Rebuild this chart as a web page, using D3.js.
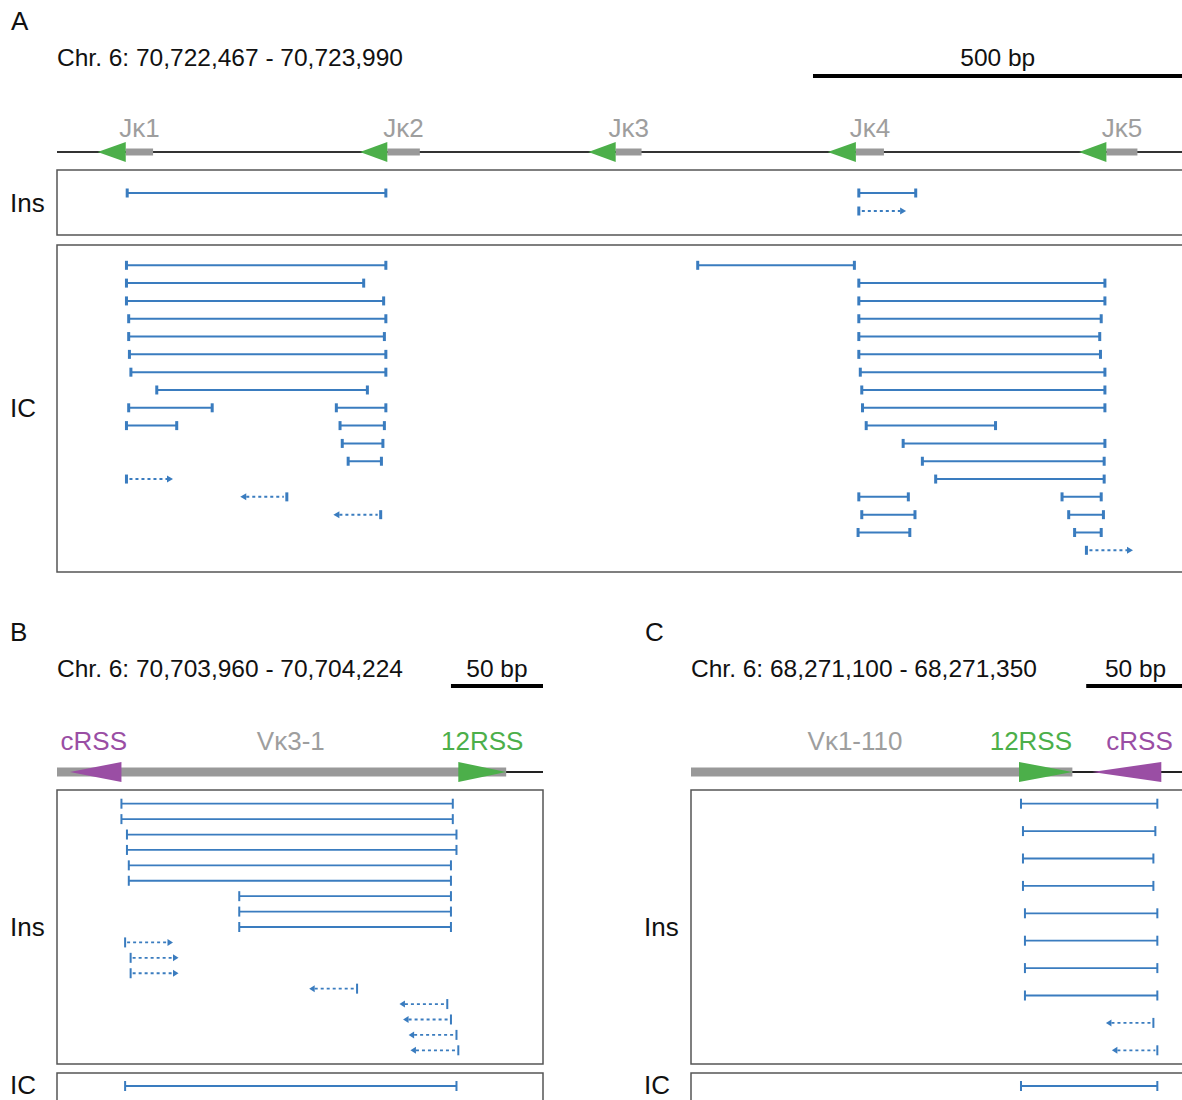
<!DOCTYPE html>
<html>
<head>
<meta charset="utf-8">
<script src="https://cdn.jsdelivr.net/npm/d3@7"></script>
<style>
  body { margin: 0; background: #fff; }
  svg { display: block; }
  text { font-family: "Liberation Sans", Arial, Helvetica, sans-serif; }
</style>
</head>
<body>
<svg id="fig" width="1182" height="1100"></svg>
<script>
// ---------------------------------------------------------------------------
// Data
// ---------------------------------------------------------------------------
const panelNames = ["A", "B", "C"];
const windowLabels = [
  "Chr. 6: 70,722,467 - 70,723,990",
  "Chr. 6: 70,703,960 - 70,704,224",
  "Chr. 6: 68,271,100 - 68,271,350"
];
const windowLengths = [1523, 264, 250];      // bp shown in each panel
const scaleBarLengths = [500, 50, 50];       // bp

// Jκ cluster (panel A), bp from window start. RSS precedes each coding segment.
const jGenes    = ["Jκ1", "Jκ2", "Jκ3", "Jκ4", "Jκ5"];
const jRssStart = [55, 410, 719, 1043, 1383];
const jSegStart = [93, 447, 756, 1081, 1420];
const jSegEnd   = [130, 491, 791, 1119, 1462];

// V segments (panels B, C): [name, start, end, kind, labelAt]
const vFeaturesB = [
  ["Vκ3-1", 0, 244, "gene", 127],
  ["cRSS", 7, 35, "cRSS", 20],
  ["12RSS", 218, 244, "12RSS", 231]
];
const vFeaturesC = [
  ["Vκ1-110", 0, 193, "gene", 83],
  ["12RSS", 166, 193, "12RSS", 172],
  ["cRSS", 203, 238, "cRSS", 227]
];

// Junction reads: [row, start bp, end bp, kind]
// kind: "s" both breakpoints mapped, "f" open towards the right, "r" open towards the left
const insA = [
  [0, 95, 445, "s"], [0, 1085, 1162, "s"],
  [1, 1085, 1149, "f"]
];
const icA = [
  [0, 94, 445, "s"],  [0, 867, 1079, "s"],
  [1, 94, 415, "s"],  [1, 1085, 1418, "s"],
  [2, 94, 442, "s"],  [2, 1085, 1418, "s"],
  [3, 97, 445, "s"],  [3, 1085, 1413, "s"],
  [4, 97, 443, "s"],  [4, 1085, 1411, "s"],
  [5, 98, 445, "s"],  [5, 1085, 1412, "s"],
  [6, 100, 445, "s"], [6, 1087, 1418, "s"],
  [7, 135, 420, "s"], [7, 1089, 1418, "s"],
  [8, 97, 210, "s"],  [8, 378, 445, "s"], [8, 1090, 1418, "s"],
  [9, 94, 162, "s"],  [9, 383, 443, "s"], [9, 1095, 1270, "s"],
  [10, 386, 441, "s"], [10, 1145, 1418, "s"],
  [11, 394, 439, "s"], [11, 1171, 1417, "s"],
  [12, 94, 157, "f"],  [12, 1189, 1417, "s"],
  [13, 248, 311, "r"], [13, 1085, 1152, "s"], [13, 1360, 1413, "s"],
  [14, 374, 438, "r"], [14, 1089, 1161, "s"], [14, 1369, 1416, "s"],
  [15, 1084, 1154, "s"], [15, 1377, 1413, "s"],
  [16, 1393, 1456, "f"]
];
const insB = [
  [0, 35, 215, "s"], [1, 35, 215, "s"], [2, 38, 217, "s"], [3, 38, 217, "s"],
  [4, 39, 214, "s"], [5, 39, 214, "s"], [6, 99, 214, "s"], [7, 99, 214, "s"],
  [8, 99, 214, "s"],
  [9, 37, 63, "f"], [10, 40, 66, "f"], [11, 40, 66, "f"],
  [12, 137, 163, "r"], [13, 186, 212, "r"], [14, 188, 214, "r"],
  [15, 191, 217, "r"], [16, 192, 218, "r"]
];
const icB = [[0, 37, 217, "s"]];
const insC = [
  [0, 167, 236, "s"], [1, 168, 235, "s"], [2, 168, 234, "s"], [3, 168, 234, "s"],
  [4, 169, 236, "s"], [5, 169, 236, "s"], [6, 169, 236, "s"], [7, 169, 236, "s"],
  [8, 210, 234, "r"], [9, 213, 236, "r"]
];
const icC = [[0, 167, 236, "s"]];

// ---------------------------------------------------------------------------
// Styles
// ---------------------------------------------------------------------------
const READ = "#3a7cbf";
const GREEN = "#4caf4a";
const PURPLE = "#9a4ea4";
const GREY = "#999999";
const LABEL_GREY = "#9e9e9e";
const BOX = "#555555";
const HEAD_FS = 24.5;   // header lines
const LAB_FS = 26;      // feature and row-group labels

const svg = d3.select("#fig");

// Horizontal scales per panel (bp -> px)
const xA = d3.scaleLinear().domain([0, windowLengths[0]]).range([57, 1182.5]);
const xB = d3.scaleLinear().domain([0, windowLengths[1]]).range([57, 543]);
const xC = d3.scaleLinear().domain([0, windowLengths[2]]).range([691, 1185]);

function header(i, x, letterX, letterY, textY, barY) {
  svg.append("text").attr("x", letterX).attr("y", letterY)
    .attr("font-size", 26).attr("fill", "#111").text(panelNames[i]);
  svg.append("text").attr("x", x.range()[0]).attr("y", textY)
    .attr("font-size", HEAD_FS).attr("fill", "#111").text(windowLabels[i]);
  const end = windowLengths[i];
  const x0 = x(end - scaleBarLengths[i]), x1 = x(end);
  svg.append("line").attr("x1", x0).attr("x2", x1).attr("y1", barY).attr("y2", barY)
    .attr("stroke", "#000").attr("stroke-width", 4);
  svg.append("text").attr("x", (x0 + x1) / 2).attr("y", textY)
    .attr("text-anchor", "middle").attr("font-size", HEAD_FS).attr("fill", "#111")
    .text(scaleBarLengths[i] + " bp");
}

function triangle(g, tipX, baseX, cy, half, fill) {
  g.append("path")
    .attr("d", `M${tipX},${cy} L${baseX},${cy - half} L${baseX},${cy + half} Z`)
    .attr("fill", fill);
}

function box(x0, x1, y0, y1) {
  svg.append("rect").attr("x", x0).attr("y", y0)
    .attr("width", x1 - x0).attr("height", y1 - y0)
    .attr("fill", "none").attr("stroke", BOX).attr("stroke-width", 1.5);
}

function sideLabel(x, y, t) {
  svg.append("text").attr("x", x).attr("y", y)
    .attr("font-size", LAB_FS).attr("fill", "#111").text(t);
}

function drawReads(reads, x, y, o) {
  const g = svg.append("g");
  g.selectAll("g.read").data(reads).join("g").attr("class", "read")
    .each(function (d) {
      const s = d3.select(this);
      const [row, a, b, kind] = d;
      const yy = y(row), xa = x(a), xb = x(b);
      const cap = cx => s.append("rect")
        .attr("x", cx - o.capW / 2).attr("y", yy - o.capH / 2)
        .attr("width", o.capW).attr("height", o.capH).attr("fill", READ);
      const seg = (p, q, dashed) => s.append("line")
        .attr("x1", p).attr("x2", q).attr("y1", yy).attr("y2", yy)
        .attr("stroke", READ).attr("stroke-width", o.lw)
        .attr("stroke-dasharray", dashed ? "3,3" : null);
      if (kind === "s") {
        seg(xa, xb, false); cap(xa); cap(xb);
      } else if (kind === "f") {
        seg(xa + o.capW, xb - o.head, true); cap(xa);
        triangle(s, xb, xb - o.head, yy, o.headH, READ);
      } else {
        seg(xa + o.head, xb - o.capW, true); cap(xb);
        triangle(s, xa, xa + o.head, yy, o.headH, READ);
      }
    });
}

// ---------------------------------------------------------------------------
// Panel A: Jκ cluster
// ---------------------------------------------------------------------------
header(0, xA, 11, 30, 66, 76);
{
  const g = svg.append("g");
  const ty = 152;
  g.append("line").attr("x1", xA(0)).attr("x2", xA(windowLengths[0]))
    .attr("y1", ty).attr("y2", ty).attr("stroke", "#333").attr("stroke-width", 2);
  jGenes.forEach((name, i) => {
    g.append("rect").attr("x", xA(jSegStart[i])).attr("y", ty - 3.5)
      .attr("width", xA(jSegEnd[i]) - xA(jSegStart[i])).attr("height", 7).attr("fill", GREY);
    triangle(g, xA(jRssStart[i]), xA(jSegStart[i]), ty, 10, GREEN);
    g.append("text").attr("x", (xA(jSegStart[i]) + xA(jSegEnd[i])) / 2).attr("y", 137)
      .attr("text-anchor", "middle").attr("font-size", LAB_FS).attr("fill", LABEL_GREY).text(name);
  });
}
box(57, 1190, 170, 235);
box(57, 1190, 245, 572);
sideLabel(10, 212, "Ins");
sideLabel(10, 417, "IC");
const optA = { lw: 2, capW: 3, capH: 9, head: 6, headH: 3.5 };
drawReads(insA, xA, r => 193 + 18 * r, optA);
drawReads(icA, xA, d3.scaleLinear().domain([0, 16]).range([265.3, 550.3]), optA);

// ---------------------------------------------------------------------------
// Panels B and C: V segments
// ---------------------------------------------------------------------------
function vTrack(features, x, len) {
  const g = svg.append("g");
  const ty = 772;
  g.append("line").attr("x1", x(0)).attr("x2", x(len)).attr("y1", ty).attr("y2", ty)
    .attr("stroke", "#222").attr("stroke-width", 2);
  features.forEach(([name, a, b, kind, at]) => {
    if (kind === "gene") {
      g.append("rect").attr("x", x(a)).attr("y", ty - 4.5)
        .attr("width", x(b) - x(a)).attr("height", 9).attr("fill", GREY);
    }
  });
  features.forEach(([name, a, b, kind, at]) => {
    let color = LABEL_GREY;
    if (kind === "12RSS") { triangle(g, x(b), x(a), ty, 10, GREEN); color = GREEN; }
    if (kind === "cRSS") { triangle(g, x(a), x(b), ty, 10, PURPLE); color = PURPLE; }
    g.append("text").attr("x", x(at)).attr("y", 750).attr("text-anchor", "middle")
      .attr("font-size", LAB_FS).attr("fill", color).text(name);
  });
}

const optBC = { lw: 1.8, capW: 2, capH: 10, head: 5.5, headH: 3.5 };

header(1, xB, 10, 641, 677, 686);
vTrack(vFeaturesB, xB, windowLengths[1]);
box(57, 543, 790, 1064);
box(57, 543, 1073, 1115);
sideLabel(10, 936, "Ins");
sideLabel(10, 1094, "IC");
drawReads(insB, xB, d3.scalePoint().domain(d3.range(17)).range([803.7, 1050.3]), optBC);
drawReads(icB, xB, () => 1086, optBC);

header(2, xC, 645, 641, 677, 686);
vTrack(vFeaturesC, xC, windowLengths[2]);
box(691, 1195, 790, 1064);
box(691, 1195, 1073, 1115);
sideLabel(644, 936, "Ins");
sideLabel(644, 1094, "IC");
drawReads(insC, xC, d3.scalePoint().domain(d3.range(10)).range([803.7, 1050.3]), optBC);
drawReads(icC, xC, () => 1086, optBC);
</script>
</body>
</html>
